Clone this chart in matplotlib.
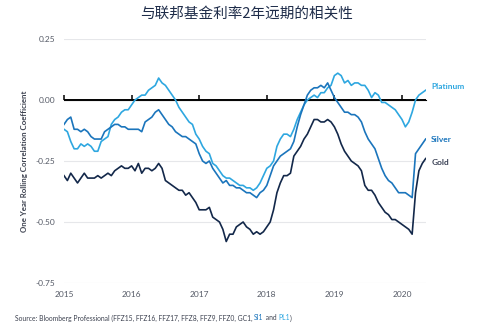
import matplotlib
matplotlib.use("Agg")
import matplotlib.pyplot as plt
import numpy as np

plt.rcParams['font.family'] = ['Lato', 'DejaVu Sans']

# decimal years, roughly every 2.5 weeks, 2015.00 .. 2020.35
dates = np.round(np.arange(108) * 0.05 + 2015, 2)

gold = [-0.31, -0.33, -0.30, -0.32, -0.34, -0.32, -0.30, -0.32, -0.32, -0.32,
        -0.31, -0.32, -0.31, -0.30, -0.31, -0.29, -0.28, -0.27, -0.28, -0.28,
        -0.27, -0.29, -0.26, -0.30, -0.28, -0.28, -0.29, -0.28, -0.26, -0.28,
        -0.33, -0.34, -0.35, -0.36, -0.37, -0.37, -0.39, -0.38, -0.40, -0.42,
        -0.45, -0.45, -0.45, -0.44, -0.48, -0.49, -0.50, -0.53, -0.58, -0.55,
        -0.55, -0.52, -0.51, -0.50, -0.52, -0.53, -0.55, -0.54, -0.55, -0.54,
        -0.52, -0.50, -0.45, -0.38, -0.34, -0.31, -0.31, -0.30, -0.23, -0.21,
        -0.19, -0.16, -0.14, -0.11, -0.08, -0.08, -0.09, -0.09, -0.08, -0.09,
        -0.11, -0.14, -0.18, -0.21, -0.23, -0.25, -0.26, -0.27, -0.29, -0.35,
        -0.37, -0.37, -0.39, -0.42, -0.44, -0.46, -0.47, -0.49, -0.49, -0.50,
        -0.51, -0.52, -0.53, -0.55, -0.38, -0.29, -0.26, -0.24]

silver = [-0.10, -0.08, -0.07, -0.12, -0.12, -0.13, -0.12, -0.13, -0.15, -0.16,
          -0.16, -0.16, -0.13, -0.12, -0.11, -0.10, -0.10, -0.11, -0.11, -0.12,
          -0.12, -0.12, -0.12, -0.13, -0.09, -0.08, -0.07, -0.05, -0.04, -0.06,
          -0.08, -0.10, -0.11, -0.13, -0.14, -0.15, -0.15, -0.16, -0.17, -0.18,
          -0.22, -0.25, -0.26, -0.25, -0.28, -0.30, -0.32, -0.34, -0.33, -0.35,
          -0.35, -0.36, -0.36, -0.37, -0.38, -0.38, -0.39, -0.40, -0.38, -0.37,
          -0.35, -0.31, -0.27, -0.25, -0.23, -0.22, -0.21, -0.20, -0.17, -0.11,
          -0.06, -0.02, 0.02, 0.04, 0.05, 0.05, 0.06, 0.05, 0.07, 0.04,
          0.01, -0.01, -0.03, -0.05, -0.05, -0.06, -0.06, -0.07, -0.09, -0.13,
          -0.16, -0.18, -0.20, -0.24, -0.28, -0.31, -0.33, -0.34, -0.36, -0.38,
          -0.38, -0.38, -0.39, -0.40, -0.22, -0.20, -0.18, -0.16]

platinum = [-0.12, -0.13, -0.17, -0.20, -0.20, -0.18, -0.19, -0.18, -0.19, -0.21,
            -0.21, -0.17, -0.16, -0.15, -0.10, -0.08, -0.07, -0.05, -0.04, -0.04,
            -0.02, 0.00, 0.01, 0.02, 0.02, 0.04, 0.05, 0.06, 0.09, 0.07,
            0.06, 0.04, 0.02, 0.00, -0.03, -0.05, -0.07, -0.09, -0.10, -0.14,
            -0.16, -0.19, -0.21, -0.22, -0.26, -0.27, -0.29, -0.31, -0.32, -0.32,
            -0.33, -0.34, -0.35, -0.35, -0.36, -0.36, -0.37, -0.36, -0.34, -0.31,
            -0.28, -0.27, -0.25, -0.19, -0.16, -0.14, -0.14, -0.15, -0.12, -0.08,
            -0.05, -0.02, 0.00, 0.01, 0.02, 0.01, 0.03, 0.03, 0.05, 0.06,
            0.10, 0.11, 0.10, 0.07, 0.08, 0.06, 0.07, 0.07, 0.06, 0.06,
            0.04, 0.01, 0.03, 0.02, -0.01, -0.01, -0.02, -0.03, -0.04, -0.06,
            -0.08, -0.11, -0.09, -0.05, 0.00, 0.02, 0.03, 0.04]

year_ticks = [2015, 2016, 2017, 2018, 2019, 2020]
y_ticks = [0.25, 0.00, -0.25, -0.50, -0.75]

c_gold = '#13284a'
c_silver = '#1b75bc'
c_plat = '#2ea7e0'
c_text = '#3d4250'

fig = plt.figure(figsize=(4.81, 3.31), dpi=100)
ax = fig.add_axes([64 / 481, 1 - 283 / 331, 362 / 481, 244 / 331])

ax.plot(dates, platinum, color=c_plat, lw=1.2, zorder=3)
ax.plot(dates, silver, color=c_silver, lw=1.2, zorder=4)
ax.plot(dates, gold, color=c_gold, lw=1.2, zorder=5)

ax.set_xlim(2015, 2015 + 362 / 67.6)
ax.set_ylim(-0.75, 0.25)
ax.set_yticks(y_ticks)
ax.set_yticklabels(['%.2f' % v for v in y_ticks])
ax.set_xticks(year_ticks)
ax.set_xticklabels([str(y) for y in year_ticks])
ax.tick_params(axis='both', length=0, labelsize=6, labelcolor='#555a66')
ax.tick_params(axis='y', pad=6)
ax.tick_params(axis='x', pad=6)
for s in ax.spines.values():
    s.set_visible(False)
ax.grid(axis='y', color='#e6e7ea', lw=0.8, zorder=0)
ax.grid(axis='x', visible=False)

# black zero line with small year ticks hanging below it
ax.axhline(0, color='black', lw=1.4, zorder=2)
zero = ax.secondary_xaxis(0.75)
zero.set_xticks(year_ticks)
zero.set_xticklabels([])
zero.spines['bottom'].set_visible(False)
zero.tick_params(direction='out', length=3.5, width=1.1, color='black')

ax.set_ylabel('One Year Rolling Correlation Coefficient', fontsize=5.7,
              fontweight='bold', color=c_text)
ax.yaxis.set_label_coords(-0.1, 0.5)

# series labels at the line ends
ax.annotate('Platinum', (dates[-1], platinum[-1]), xytext=(4, 3),
            textcoords='offset points', fontsize=6, fontweight='bold',
            color=c_plat, va='center')
ax.annotate('Silver', (dates[-1], silver[-1]), xytext=(4, 0),
            textcoords='offset points', fontsize=6, fontweight='bold',
            color=c_silver, va='center')
ax.annotate('Gold', (dates[-1], gold[-1]), xytext=(4, -3),
            textcoords='offset points', fontsize=6, fontweight='bold',
            color='#3b4256', va='center')

fig.text(247 / 481, 1 - 14 / 331, '与联邦基金利率2年远期的相关性',
         family=['Noto Sans CJK SC', 'DejaVu Sans'], fontsize=10.5,
         color='#1f2d4a', ha='center', va='center')

# source line, with the silver / platinum tickers coloured
parts = [('Source: Bloomberg Professional (FFZ15, FFZ16, FFZ17, FFZ8, FFZ9, FFZ0, GC1, ', c_text),
         ('SI1', c_silver), (' and ', c_text), ('PL1', c_plat), (')', c_text)]
renderer = fig.canvas.get_renderer()
src_size = 4.9
x0 = 15 / 481
y0 = 1 - 318 / 331


def text_w(s):
    # width of s in figure fraction; the '|' guard keeps trailing spaces
    t = fig.text(0, 0, s + '|', fontsize=src_size)
    g = fig.text(0, 0, '|', fontsize=src_size)
    w = t.get_window_extent(renderer).width - g.get_window_extent(renderer).width
    t.remove()
    g.remove()
    return w / fig.bbox.width


prefix = ''
for txt, col in parts:
    fig.text(x0 + (text_w(prefix) if prefix else 0), y0, txt,
             fontsize=src_size, color=col, va='center')
    prefix += txt

fig.savefig('out.png', dpi=100)
